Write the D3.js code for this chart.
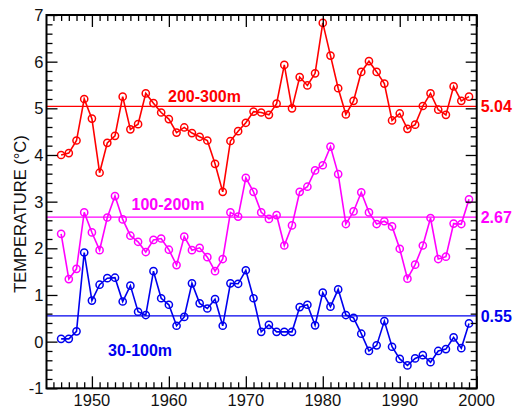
<!DOCTYPE html>
<html><head><meta charset="utf-8">
<script src="https://cdn.jsdelivr.net/npm/d3@7"></script>
<style>body{margin:0;background:#fff}svg{display:block}text{font-family:"Liberation Sans",Arial,sans-serif}</style>
</head><body>
<svg id="c" width="515" height="410"></svg>
<script>
const years = d3.range(1946, 2000);
const deep = [4.00,4.04,4.31,5.20,4.78,3.62,4.26,4.41,5.25,4.55,4.66,5.32,5.11,4.91,4.77,4.48,4.59,4.47,4.39,4.31,3.81,3.21,4.30,4.51,4.69,4.93,4.91,4.86,5.10,5.93,5.00,5.67,5.49,5.75,6.83,6.13,5.43,4.87,5.16,5.78,6.01,5.78,5.53,4.74,4.89,4.56,4.65,5.05,5.32,4.97,4.86,5.47,5.16,5.25];
const mid = [2.31,1.34,1.56,2.77,2.34,1.96,2.66,3.12,2.62,2.27,2.14,1.92,2.18,2.21,1.97,1.64,2.25,1.96,2.01,1.81,1.51,1.77,2.77,2.68,3.51,3.21,2.77,2.63,2.71,2.06,2.49,3.21,3.32,3.67,3.78,4.18,3.59,2.52,2.79,3.20,2.77,2.52,2.58,2.47,1.99,1.35,1.65,2.06,2.65,1.77,1.82,2.53,2.52,3.05];
const shallow = [0.06,0.06,0.22,1.91,0.88,1.22,1.36,1.37,0.86,1.20,0.64,0.57,1.51,0.93,0.79,0.34,0.53,1.25,0.82,0.71,0.91,0.34,1.25,1.24,1.53,0.93,0.21,0.36,0.21,0.21,0.21,0.74,0.79,0.35,1.05,0.75,1.12,0.57,0.51,0.17,-0.20,-0.08,0.44,-0.11,-0.37,-0.51,-0.36,-0.29,-0.44,-0.20,-0.16,0.09,-0.14,0.39];
const seriesNames = ["200-300m","100-200m","30-100m"];
const means = [5.04, 2.67, 0.55];
const meanLabels = ["5.04","2.67","0.55"];
const colors = ["#ff0000","#ff00ff","#0000ee"];
const xTicks = [1950,1960,1970,1980,1990,2000];
const yTicks = [-1,0,1,2,3,4,5,6,7];
const yLabel = "TEMPERATURE (°C)";

const svg = d3.select("#c");
const L=46.5, R=476.7, T=15, B=388.3;
const x = d3.scaleLinear().domain([1944.1,2000]).range([L,R]);
const y = d3.scaleLinear().domain([-1,7]).range([B,T]);

const series = [deep, mid, shallow];
const labelPos = [[168,101.5],[131.5,210],[108,356]];

// mean lines
means.forEach((m,i)=>{
  svg.append("line").attr("x1",L).attr("x2",R).attr("y1",y(m)).attr("y2",y(m))
    .attr("stroke",colors[i]).attr("stroke-width",1.2);
  svg.append("text").attr("x",R+4).attr("y",y(m)+6).attr("fill",colors[i])
    .attr("font-size",16).attr("font-weight","bold").text(meanLabels[i]);
});

// series
const line = d3.line().x((d,i)=>x(years[i])).y(d=>y(d));
series.forEach((s,i)=>{
  svg.append("path").attr("d",line(s)).attr("fill","none").attr("stroke",colors[i]).attr("stroke-width",1.6);
  svg.append("g").selectAll("circle").data(s).join("circle")
    .attr("cx",(d,j)=>x(years[j])).attr("cy",d=>y(d)).attr("r",3.6)
    .attr("fill","none").attr("stroke",colors[i]).attr("stroke-width",1.5);
  svg.append("text").attr("x",labelPos[i][0]).attr("y",labelPos[i][1]).attr("fill",colors[i])
    .attr("font-size",16).attr("font-weight","bold").text(seriesNames[i]);
});

// axes with inward ticks
const minorX = d3.range(1945,2000).filter(v=>v%10!==0);
const minorY = d3.range(-10,71,2).map(v=>v/10).filter(v=>Math.abs(v-Math.round(v))>1e-6);
function ax(axisFn, scale, vals, size, tx, ty){
  const g = svg.append("g").attr("transform",`translate(${tx},${ty})`)
    .call(axisFn(scale).tickValues(vals).tickSize(size).tickFormat(""));
  g.select(".domain").remove();
  g.selectAll("line").attr("stroke","#000").attr("stroke-width",1.3);
  return g;
}
ax(d3.axisTop, x, xTicks, 12, 0, B);
ax(d3.axisTop, x, minorX, 6, 0, B);
ax(d3.axisBottom, x, xTicks, 12, 0, T);
ax(d3.axisBottom, x, minorX, 6, 0, T);
ax(d3.axisRight, y, yTicks, 11, L, 0);
ax(d3.axisRight, y, minorY, 6, L, 0);
ax(d3.axisLeft, y, yTicks, 11, R, 0);
ax(d3.axisLeft, y, minorY, 6, R, 0);

svg.append("rect").attr("x",L).attr("y",T).attr("width",R-L).attr("height",B-T)
  .attr("fill","none").attr("stroke","#000").attr("stroke-width",2);

svg.append("g").selectAll("text").data(xTicks).join("text")
  .attr("x",d=>x(d)).attr("y",B+18).attr("text-anchor","middle").attr("font-size",16.5).attr("fill","#111").text(d=>d);
svg.append("g").selectAll("text").data(yTicks).join("text")
  .attr("x",L-3).attr("y",d=>y(d)+6).attr("text-anchor","end").attr("font-size",16.5).attr("fill","#111").text(d=>d);

svg.append("text").attr("transform",`translate(25.5,214) rotate(-90)`)
  .attr("text-anchor","middle").attr("font-size",16.5).attr("fill","#111").text(yLabel);
</script>
</body></html>
